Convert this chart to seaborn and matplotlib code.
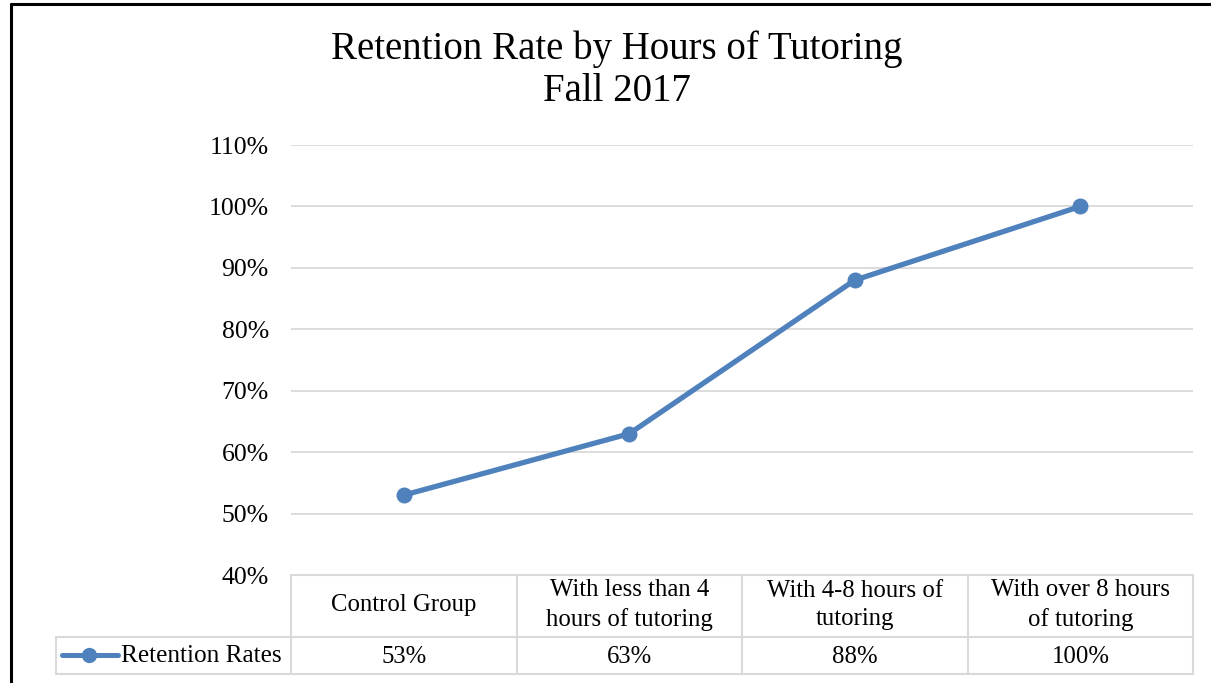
import matplotlib
matplotlib.use("Agg")
import matplotlib.pyplot as plt
from matplotlib.lines import Line2D
from matplotlib.ticker import PercentFormatter
import seaborn as sns

# Chart data
categories = ["Control Group", "With less than 4\nhours of tutoring",
              "With 4-8 hours of\ntutoring", "With over 8 hours\nof tutoring"]
retention = [0.53, 0.63, 0.88, 1.00]
value_labels = ["53%", "63%", "88%", "100%"]
series_name = "Retention Rates"
y_ticks = [0.4, 0.5, 0.6, 0.7, 0.8, 0.9, 1.0, 1.1]

W, H = 1211, 683
blue = "#4F81BD"
grid = "#D9D9D9"
font = ["Liberation Serif", "DejaVu Serif"]

sns.set_theme(style="white")
plt.rcParams["font.family"] = font
plt.rcParams["text.color"] = "black"
plt.rcParams["ytick.color"] = "black"

fig = plt.figure(figsize=(W / 100, H / 100), dpi=100)


def fx(px):
    return px / W


def fy(py):
    return 1 - py / H


# plot area in pixel coordinates
left, right, top, bottom = 291, 1193, 145, 575
ax = fig.add_axes([fx(left), fy(bottom), fx(right) - fx(left), fy(top) - fy(bottom)])

x_pos = list(range(len(categories)))
sns.lineplot(x=x_pos, y=retention, ax=ax, color=blue, linewidth=3.8,
             marker="o", markersize=11.5, markeredgewidth=0, zorder=3)

ax.set_xlim(-0.5, len(categories) - 0.5)
ax.set_ylim(0.4, 1.1)
ax.set_yticks(y_ticks)
ax.yaxis.set_major_formatter(PercentFormatter(1.0, decimals=0))
ax.set_xticks([])
ax.tick_params(axis="y", length=0, pad=16, labelsize=18.5, labelcolor="black")
for t in ax.get_yticklabels():
    t.set_family(font)
ax.grid(axis="y", color=grid, linewidth=1.3)
for s in ax.spines.values():
    s.set_visible(False)

# title
fig.text(fx(617), fy(70), "Retention Rate by Hours of Tutoring\nFall 2017",
         ha="center", va="center", fontsize=28, linespacing=1.18)

# data table below the plot
col_edges = [291, 517, 742, 968, 1193]
row_top, row_mid, row_bot = 575, 637, 674
lines = [
    ((291, 1193), (row_top, row_top)),
    ((56, 1193), (row_mid, row_mid)),
    ((56, 1193), (row_bot, row_bot)),
    ((56, 56), (row_mid, row_bot)),
]
for xe in col_edges:
    lines.append(((xe, xe), (row_top, row_bot)))
for (x0, x1), (y0, y1) in lines:
    fig.add_artist(Line2D([fx(x0), fx(x1)], [fy(y0), fy(y1)], color=grid, linewidth=1.5))

for i, (cat, val) in enumerate(zip(categories, value_labels)):
    cx = (col_edges[i] + col_edges[i + 1]) / 2
    fig.text(fx(cx), fy(605), cat, ha="center", va="center", fontsize=17.8, linespacing=1.4)
    fig.text(fx(cx), fy(657), val, ha="center", va="center", fontsize=17.8)

# legend key in the table
fig.add_artist(Line2D([fx(62), fx(118)], [fy(655), fy(655)], color=blue, linewidth=3.6))
fig.add_artist(Line2D([fx(89)], [fy(655)], color=blue, marker="o", markersize=11,
                      markeredgewidth=0))
fig.text(fx(121), fy(656), series_name, ha="left", va="center", fontsize=18.2)

# chart border (left and top visible)
fig.add_artist(Line2D([fx(11), fx(11)], [fy(4), -0.1], color="black", linewidth=2.2))
fig.add_artist(Line2D([fx(11), 1.1], [fy(4), fy(4)], color="black", linewidth=2.2))

fig.savefig("out.png", dpi=100)
